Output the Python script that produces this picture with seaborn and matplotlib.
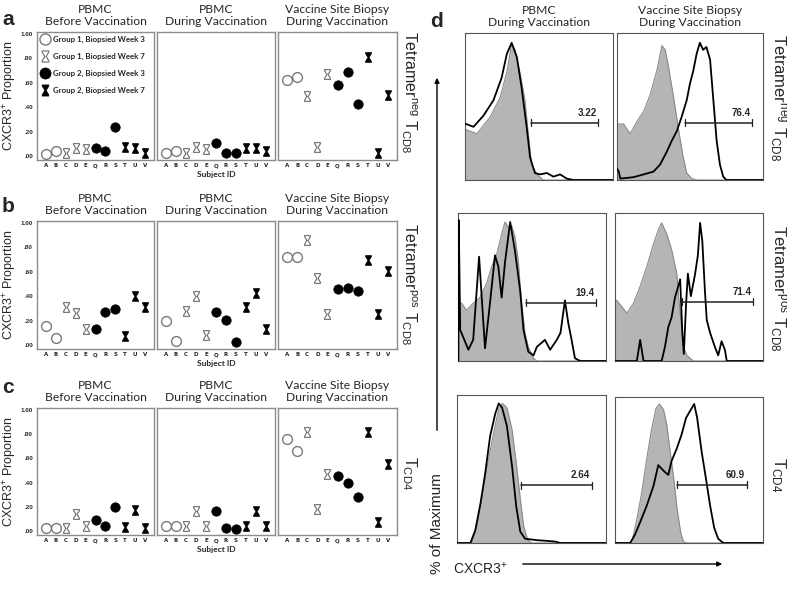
import matplotlib

matplotlib.use("Agg")

import matplotlib.pyplot as plt
import pandas as pd
import seaborn as sns
from matplotlib.lines import Line2D
from matplotlib.markers import MarkerStyle
from matplotlib.patches import FancyArrowPatch
from matplotlib.path import Path
from matplotlib.ticker import FuncFormatter

# ---------------- panels a-c: CXCR3+ proportion per subject ----------------
SUBJECTS = ["A", "B", "C", "D", "E", "Q", "R", "S", "T", "U", "V"]
SUBJECT_GROUP = ["G1W3", "G1W3", "G1W7", "G1W7", "G1W7",
                 "G2W3", "G2W3", "G2W3", "G2W7", "G2W7", "G2W7"]
GROUP_ORDER = ["G1W3", "G1W7", "G2W3", "G2W7"]
GROUP_LABELS = ["Group 1, Biopsied Week 3", "Group 1, Biopsied Week 7",
                "Group 2, Biopsied Week 3", "Group 2, Biopsied Week 7"]

NEG_BEFORE = [0.02, 0.04, 0.03, 0.07, 0.06, 0.07, 0.04, 0.24, 0.08, 0.07, 0.03]
NEG_DURING = [0.03, 0.04, 0.03, 0.08, 0.06, 0.11, 0.03, 0.03, 0.07, 0.07, 0.04]
NEG_SITE = [0.62, 0.645, 0.49, 0.08, 0.67, 0.58, 0.69, 0.43, 0.81, 0.03, 0.50]

POS_BEFORE = [0.156, 0.063, 0.31, 0.26, 0.13, 0.137, 0.27, 0.30, 0.08, 0.40, 0.315]
POS_DURING = [0.20, 0.033, 0.28, 0.405, 0.088, 0.27, 0.21, 0.025, 0.31, 0.43, 0.137]
POS_SITE = [0.72, 0.72, 0.857, 0.548, 0.255, 0.46, 0.465, 0.446, 0.70, 0.255, 0.61]

CD4_BEFORE = [0.025, 0.025, 0.025, 0.14, 0.046, 0.095, 0.046, 0.204, 0.033, 0.174, 0.025]
CD4_DURING = [0.04, 0.04, 0.04, 0.17, 0.046, 0.17, 0.03, 0.02, 0.046, 0.17, 0.04]
CD4_SITE = [0.76, 0.665, 0.815, 0.18, 0.47, 0.455, 0.40, 0.28, 0.815, 0.073, 0.556]

COL_TITLES_ABC = ["PBMC\nBefore Vaccination", "PBMC\nDuring Vaccination",
                  "Vaccine Site Biopsy\nDuring Vaccination"]
COL_TITLES_D = ["PBMC\nDuring Vaccination", "Vaccine Site Biopsy\nDuring Vaccination"]
ROW_LABELS = [r"Tetramer$^{\mathrm{neg}}$ T$_{\mathrm{CD8}}$",
              r"Tetramer$^{\mathrm{pos}}$ T$_{\mathrm{CD8}}$",
              r"T$_{\mathrm{CD4}}$"]
PANEL_LETTERS = ["a", "b", "c", "d"]

# ---------------- panel d: CXCR3 histograms (log decades, % of max) ----------------
NEG_PBMC_CTRL_X = [0.0, 0.03, 0.32, 0.68, 0.95, 1.13, 1.20, 1.26, 1.35, 1.49, 1.62, 1.71, 1.80, 1.94, 2.12, 4.0]
NEG_PBMC_CTRL_Y = [36, 36, 33, 45, 59, 77, 88, 97, 93, 76, 57, 33, 11, 4, 0, 0]
NEG_PBMC_STAIN_X = [0.0, 0.03, 0.23, 0.50, 0.77, 0.99, 1.13, 1.26, 1.40, 1.53, 1.67, 1.76, 1.89, 2.03,
                    2.21, 2.39, 2.57, 2.75, 2.93, 4.0]
NEG_PBMC_STAIN_Y = [40, 40, 38, 46, 57, 73, 90, 98, 88, 66, 37, 16, 5, 4, 5, 2.4, 4, 1, 0, 0]

NEG_SITE_CTRL_X = [0.0, 0.05, 0.18, 0.36, 0.55, 0.73, 0.91, 1.09, 1.23, 1.32, 1.41, 1.55, 1.68, 1.80,
                   1.91, 2.05, 2.18, 4.0]
NEG_SITE_CTRL_Y = [40, 40, 40, 33, 42, 49, 61, 78, 96, 93, 81, 59, 37, 18, 5, 1, 0, 0]
NEG_SITE_STAIN_X = [0.0, 0.05, 0.09, 0.45, 0.73, 1.00, 1.18, 1.36, 1.50, 1.64, 1.77, 1.91, 2.00, 2.09,
                    2.18, 2.27, 2.36, 2.45, 2.55, 2.64, 2.73, 2.82, 2.91, 3.00, 4.0]
NEG_SITE_STAIN_Y = [8, 6, 1, 2, 4, 6, 11, 20, 28, 35, 45, 57, 69, 78, 90, 98, 93, 95, 86, 57, 28, 11,
                    2.4, 0, 0]

POS_PBMC_CTRL_X = [0.0, 0.10, 0.23, 0.41, 0.59, 0.77, 0.91, 1.05, 1.18, 1.27, 1.36, 1.45, 1.54, 1.63,
                   1.68, 1.75, 1.81, 1.90, 2.04, 2.13, 4.0]
POS_PBMC_CTRL_Y = [41, 41, 36, 41, 45, 55, 67, 76, 90, 98.6, 95, 96, 88, 71, 53, 34, 20, 10, 2, 0, 0]
POS_PBMC_STAIN_X = [0.01, 0.02, 0.06, 0.14, 0.28, 0.41, 0.57, 0.73, 0.86, 1.00, 1.09, 1.18, 1.27, 1.41,
                    1.54, 1.68, 1.77, 1.90, 2.04, 2.13, 2.35, 2.49, 2.67, 2.77, 2.89, 2.98, 3.07, 3.16,
                    3.30, 4.0]
POS_PBMC_STAIN_Y = [0, 100, 22, 17, 8, 15, 74, 9, 40, 75, 67, 45, 70, 98.6, 78, 50, 22, 6.6, 4, 10,
                    15, 8, 15, 20, 43, 27, 15, 2, 0, 0]

POS_SITE_CTRL_X = [0.0, 0.05, 0.32, 0.50, 0.68, 0.86, 1.04, 1.17, 1.26, 1.40, 1.53, 1.67, 1.72, 1.80,
                   1.85, 1.94, 2.12, 4.0]
POS_SITE_CTRL_Y = [43, 43, 34, 41, 53, 67, 83, 93, 98, 90, 79, 62, 45, 24, 10, 4, 0, 0]
POS_SITE_STAIN_X = [0.0, 0.59, 0.68, 0.77, 1.26, 1.35, 1.44, 1.53, 1.62, 1.71, 1.76, 1.82, 1.86, 1.92,
                    1.97, 2.05, 2.16, 2.24, 2.30, 2.36, 2.43, 2.48, 2.57, 2.70, 2.79, 2.88, 2.97, 3.02,
                    4.0]
POS_SITE_STAIN_Y = [0, 0, 15, 0, 0, 10, 24, 31, 45, 53, 58, 20, 5, 40, 62, 46, 61, 75, 98, 85, 50, 29,
                    20, 10, 4, 14, 8, 0, 0]

CD4_PBMC_CTRL_X = [0.0, 0.40, 0.54, 0.67, 0.81, 0.98, 1.12, 1.22, 1.34, 1.48, 1.59, 1.70, 1.79, 1.90,
                   2.01, 4.0]
CD4_PBMC_CTRL_Y = [0, 0, 12, 31, 54, 78, 95, 99, 96, 80, 57, 31, 12, 2, 0, 0]
CD4_PBMC_STAIN_X = [0.0, 0.36, 0.49, 0.63, 0.76, 0.89, 1.03, 1.12, 1.21, 1.34, 1.48, 1.59, 1.70, 1.83,
                    2.15, 2.42, 2.64, 2.77, 4.0]
CD4_PBMC_STAIN_Y = [0, 0, 9, 28, 50, 76, 92, 99, 96, 83, 54, 26, 8, 3, 2, 1.5, 1, 0, 0]

CD4_SITE_CTRL_X = [0.0, 0.45, 0.59, 0.72, 0.86, 0.99, 1.11, 1.20, 1.31, 1.40, 1.49, 1.59, 1.68, 1.78,
                   1.85, 1.95, 4.0]
CD4_SITE_CTRL_Y = [0, 0, 17, 36, 61, 82, 97, 100, 96, 85, 66, 46, 24, 7, 1, 0, 0]
CD4_SITE_STAIN_X = [0.0, 0.41, 0.54, 0.68, 0.86, 1.04, 1.17, 1.31, 1.44, 1.53, 1.67, 1.80, 1.92, 2.03,
                    2.14, 2.22, 2.34, 2.46, 2.57, 2.68, 2.79, 2.93, 4.0]
CD4_SITE_STAIN_Y = [0, 0, 6, 15, 27, 41, 56, 52, 49, 59, 68, 78, 90, 95, 100, 90, 66, 46, 27, 11, 3, 0, 0]

GATE_START = [1.78, 1.86, 1.84, 1.80, 1.73, 1.68]
GATE_END = [3.60, 3.71, 3.73, 3.72, 3.62, 3.56]
GATE_LEVEL = [41, 41, 41.5, 42, 41, 42]
GATE_LABELS = ["3.22", "76.4", "19.4", "71.4", "2.64", "60.9"]

# ---------------- styling ----------------
W, H = 787, 592
SC_X = [(37, 154), (157, 275), (278, 397)]
SC_Y = [(32, 160), (221, 349), (408, 535)]
HI_BOX = [[(465, 613, 33, 180), (617, 763, 33, 180)],
          [(458, 606, 213, 361), (615, 763, 213, 361)],
          [(457, 606, 395, 543), (615, 763, 397, 543)]]

HOURGLASS = MarkerStyle(Path(
    [(-0.6, 1), (0.6, 1), (0.6, 0.8), (0.12, 0), (0.6, -0.8), (0.6, -1),
     (-0.6, -1), (-0.6, -0.8), (-0.12, 0), (-0.6, 0.8), (-0.6, 1)],
    [Path.MOVETO] + [Path.LINETO] * 9 + [Path.CLOSEPOLY]))
GROUP_STYLE = {
    "G1W3": dict(marker="o", s=50, face="white", edge="#7a7a7a", lw=1.0),
    "G1W7": dict(marker=HOURGLASS, s=50, face="white", edge="#7a7a7a", lw=0.9),
    "G2W3": dict(marker="o", s=46, face="black", edge="black", lw=0.5),
    "G2W7": dict(marker=HOURGLASS, s=50, face="black", edge="black", lw=0.5),
}

sns.set_theme(style="white")
plt.rcParams["font.family"] = ["Liberation Sans", "DejaVu Sans"]
plt.rcParams["mathtext.fontset"] = "custom"
plt.rcParams["mathtext.rm"] = "Liberation Sans"
plt.rcParams["mathtext.it"] = "Liberation Sans:italic"
plt.rcParams["mathtext.bf"] = "Liberation Sans:bold"

fig = plt.figure(figsize=(W / 100, H / 100), dpi=100)


def px_axes(x0, x1, y0, y1):
    return fig.add_axes([x0 / W, 1 - y1 / H, (x1 - x0) / W, (y1 - y0) / H])


def fmt_prop(v, _):
    s = f"{v:.2f}"
    return s[1:] if s.startswith("0") else s


# long table for the scatter panels
SCATTER_VALUES = [[NEG_BEFORE, NEG_DURING, NEG_SITE],
                  [POS_BEFORE, POS_DURING, POS_SITE],
                  [CD4_BEFORE, CD4_DURING, CD4_SITE]]
records = []
for r, row_vals in enumerate(SCATTER_VALUES):
    for c, vals in enumerate(row_vals):
        for i, (subj, grp, v) in enumerate(zip(SUBJECTS, SUBJECT_GROUP, vals)):
            records.append({"row": r, "col": c, "pos": i, "subject": subj, "group": grp, "value": v})
df = pd.DataFrame(records)

for r in range(3):
    for c in range(3):
        ax = px_axes(*SC_X[c], *SC_Y[r])
        sub = df[(df["row"] == r) & (df["col"] == c)]
        for g in GROUP_ORDER:
            st = GROUP_STYLE[g]
            sns.scatterplot(data=sub[sub["group"] == g], x="pos", y="value", ax=ax,
                            marker=st["marker"], s=st["s"], color=st["face"],
                            edgecolor=st["edge"], linewidth=st["lw"], legend=False, zorder=3)
        ax.set_xlim(-0.9, 10.9)
        ax.set_ylim(-0.03, 1.015)
        ax.set_xticks(range(len(SUBJECTS)))
        ax.set_xticklabels(SUBJECTS, fontsize=4, fontweight="bold", family="DejaVu Sans")
        ax.tick_params(axis="x", length=0, pad=2.5)
        if c == 0:
            ax.set_yticks([0, 0.2, 0.4, 0.6, 0.8, 1.0])
            ax.yaxis.set_major_formatter(FuncFormatter(fmt_prop))
            ax.tick_params(axis="y", direction="out", length=2, width=0.6, color="#666",
                           labelsize=4.5, pad=1)
            for lab in ax.get_yticklabels():
                lab.set_fontweight("bold")
            ax.set_ylabel(r"CXCR3$^{+}$ Proportion", fontsize=9)
            ax.yaxis.set_label_coords(-0.15, 0.5)
        else:
            ax.set_yticks([])
            ax.set_ylabel("")
        ax.set_xlabel("Subject ID" if c == 1 else "", fontsize=6, fontweight="bold",
                      family="Lato", labelpad=1.5)
        ax.set_title(COL_TITLES_ABC[c], fontsize=8.7, family="Lato", pad=5, linespacing=1.1)
        for sp in ax.spines.values():
            sp.set_color("#8c8c8c")
            sp.set_linewidth(1.0)
        if r == 0 and c == 0:
            handles = [Line2D([], [], linestyle="", marker=GROUP_STYLE[g]["marker"], markersize=8,
                              markerfacecolor=GROUP_STYLE[g]["face"],
                              markeredgecolor=GROUP_STYLE[g]["edge"],
                              markeredgewidth=GROUP_STYLE[g]["lw"]) for g in GROUP_ORDER]
            ax.legend(handles, GROUP_LABELS, loc="upper left", frameon=False,
                      prop={"family": "Lato", "weight": "bold", "size": 5.7},
                      handletextpad=0.5, labelspacing=1.25, borderaxespad=0.25,
                      handlelength=1.1, borderpad=0.2)

# ---------------- panel d histograms ----------------
HISTS = [[(NEG_PBMC_CTRL_X, NEG_PBMC_CTRL_Y, NEG_PBMC_STAIN_X, NEG_PBMC_STAIN_Y),
          (NEG_SITE_CTRL_X, NEG_SITE_CTRL_Y, NEG_SITE_STAIN_X, NEG_SITE_STAIN_Y)],
         [(POS_PBMC_CTRL_X, POS_PBMC_CTRL_Y, POS_PBMC_STAIN_X, POS_PBMC_STAIN_Y),
          (POS_SITE_CTRL_X, POS_SITE_CTRL_Y, POS_SITE_STAIN_X, POS_SITE_STAIN_Y)],
         [(CD4_PBMC_CTRL_X, CD4_PBMC_CTRL_Y, CD4_PBMC_STAIN_X, CD4_PBMC_STAIN_Y),
          (CD4_SITE_CTRL_X, CD4_SITE_CTRL_Y, CD4_SITE_STAIN_X, CD4_SITE_STAIN_Y)]]
minor_x = [d + m for d in range(4) for m in (0.301, 0.477, 0.602, 0.699, 0.778, 0.845, 0.903, 0.954)]

for r in range(3):
    for c in range(2):
        k = r * 2 + c
        ax = px_axes(*HI_BOX[r][c])
        cx, cy, sx, sy = HISTS[r][c]
        ax.fill_between(cx, cy, 0, color="#b5b5b5", lw=0, zorder=1)
        sns.lineplot(x=cx, y=cy, ax=ax, color="#8a8a8a", lw=0.8, estimator=None, sort=False, zorder=2)
        sns.lineplot(x=sx, y=sy, ax=ax, color="black", lw=1.3, estimator=None, sort=False, zorder=3)
        g0, g1, gy = GATE_START[k], GATE_END[k], GATE_LEVEL[k]
        ax.plot([g0, g1], [gy, gy], color="#222", lw=1.1, zorder=4)
        ax.plot([g0, g0], [gy - 2.5, gy + 2.5], color="#222", lw=0.9, zorder=4)
        ax.plot([g1, g1], [gy - 2.5, gy + 2.5], color="#222", lw=0.9, zorder=4)
        ax.text(g1 - 0.04, gy + 3.5, GATE_LABELS[k], ha="right", va="bottom",
                fontsize=7, fontweight="bold")
        ax.set_xlim(0, 4)
        ax.set_ylim(0, 105)
        ax.set_xticks([0, 1, 2, 3, 4])
        ax.set_xticks(minor_x, minor=True)
        ax.set_yticks([0, 20, 40, 60, 80, 100])
        ax.set_xticklabels([])
        ax.set_yticklabels([])
        ax.tick_params(axis="both", which="major", direction="inout", length=3, width=0.6, color="#444")
        ax.tick_params(axis="x", which="minor", direction="inout", length=2, width=0.5, color="#444")
        ax.set_xlabel("")
        ax.set_ylabel("")
        for sp in ax.spines.values():
            sp.set_color("#555")
            sp.set_linewidth(0.8)
        if r == 0:
            ax.set_title(COL_TITLES_D[c], fontsize=8.7, family="Lato", pad=5, linespacing=1.1)

# ---------------- figure-level text and arrows ----------------
def fx(px):
    return px / W


def fy(py):
    return 1 - py / H


for r, yc in enumerate([92, 284, 473]):
    fig.text(fx(409), fy(yc), ROW_LABELS[r], rotation=-90, ha="center", va="center", fontsize=11.5)
for r, yc in enumerate([98, 288, 475]):
    fig.text(fx(778), fy(yc), ROW_LABELS[r], rotation=-90, ha="center", va="center", fontsize=12)

for letter, (px, py) in zip(PANEL_LETTERS, [(2, 25), (2, 212), (2, 393), (430, 27)]):
    fig.text(fx(px), fy(py), letter, fontsize=15, fontweight="bold", ha="left", va="baseline")

fig.text(fx(437), fy(524), "% of Maximum", rotation=90, ha="center", va="center", fontsize=11)
fig.text(fx(480), fy(569), r"CXCR3$^{+}$", ha="center", va="center", fontsize=10)
fig.add_artist(FancyArrowPatch((fx(437), fy(433)), (fx(437), fy(75)), transform=fig.transFigure,
                               arrowstyle="-|>", mutation_scale=7, lw=1.0, color="black"))
fig.add_artist(FancyArrowPatch((fx(520), fy(564)), (fx(725), fy(564)), transform=fig.transFigure,
                               arrowstyle="-|>", mutation_scale=7, lw=1.0, color="black"))

fig.savefig("out.png", dpi=100)
